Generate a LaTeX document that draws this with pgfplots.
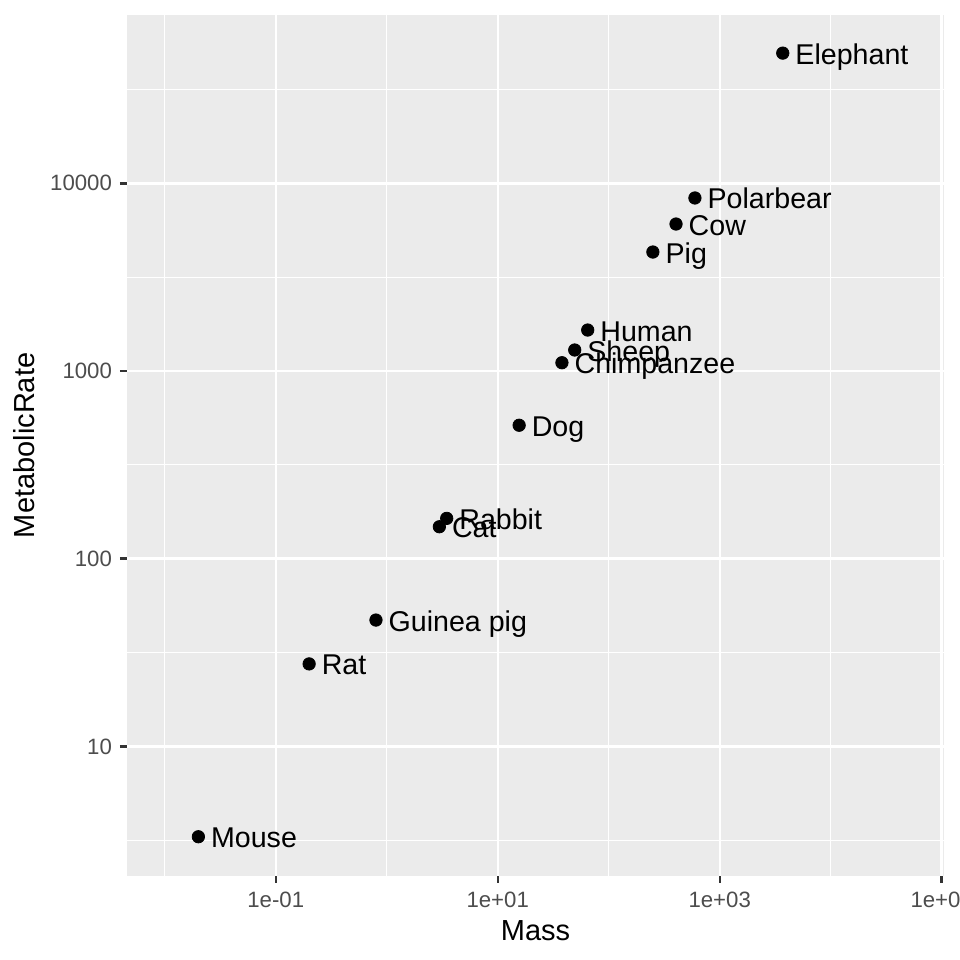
\documentclass[border=0pt]{standalone}
\usepackage{pgfplots}
\pgfplotsset{compat=1.18}
\usepackage{fontspec}
\setmainfont{Liberation Sans}
\definecolor{panelbg}{HTML}{EBEBEB}
\definecolor{ticktext}{HTML}{4D4D4D}
\definecolor{tickmark}{HTML}{333333}

\begin{document}
\begin{tikzpicture}
\begin{axis}[
    name=ax,
    xmode=log, ymode=log,
    scale only axis,
    width=408.5bp, height=430.35bp,
    xmin=0.004571, xmax=104900,
    ymin=2.046, ymax=78886,
    axis background/.style={fill=panelbg},
    axis line style={draw=none},
    xtick={0.1,10,1000,100000},
    xticklabels={1e-01,1e+01,1e+03,1e+05},
    ytick={10,100,1000,10000},
    yticklabels={10,100,1000,10000},
    minor xtick={0.01,1,100,10000},
    minor ytick={3.16228,31.6228,316.228,3162.28,31622.8},
    grid=both,
    major grid style={white, line width=1.2bp},
    minor grid style={white, line width=0.6bp},
    tick pos=left,
    tick align=outside,
    major tick length=3.5bp,
    minor tick length=0pt,
    every tick/.style={tickmark, line width=1.2bp},
    xticklabel style={anchor=north, inner sep=0pt, yshift=-4.5bp,
        font=\fontsize{11.1bp}{13bp}\selectfont, text=ticktext},
    yticklabel style={anchor=east, inner sep=0pt, xshift=-3.85bp,
        font=\fontsize{11.1bp}{13bp}\selectfont, text=ticktext},
    xlabel={Mass},
    ylabel={MetabolicRate},
    xlabel style={at={(axis description cs:0.5,-0.0747)}, anchor=base,
        inner sep=0pt, font=\fontsize{14.5bp}{17bp}\selectfont},
    ylabel style={at={(axis description cs:-0.1132,0.5)}, rotate=0, anchor=base,
        inner sep=0pt, font=\fontsize{14.5bp}{17bp}\selectfont},
]
% animals: mass, metabolic rate, name
\addplot[only marks, mark=*, mark size=3.1bp, draw=black, fill=black,
    nodes near coords, point meta=explicit symbolic,
    every node near coord/.append style={anchor=base west, xshift=6.15bp,
        yshift=-5.5bp, inner sep=0pt, text=black,
        font=\fontsize{14.3bp}{17bp}\selectfont}]
coordinates {
    (0.0201, 3.3) [Mouse]
    (0.2, 27.5) [Rat]
    (0.8, 47.1) [Guinea pig]
    (2.98, 148) [Cat]
    (3.47, 164) [Rabbit]
    (15.6, 514) [Dog]
    (37.9, 1107) [Chimpanzee]
    (49.4, 1294) [Sheep]
    (64.7, 1653) [Human]
    (250, 4305) [Pig]
    (404, 6069) [Cow]
    (598, 8355) [Polarbear]
    (3700, 49400) [Elephant]
};
\end{axis}
\pgfresetboundingbox
\path[use as bounding box] (ax.south west) ++(-63.5bp,-42.15bp) rectangle ++(480bp,480bp);
\end{tikzpicture}
\end{document}
